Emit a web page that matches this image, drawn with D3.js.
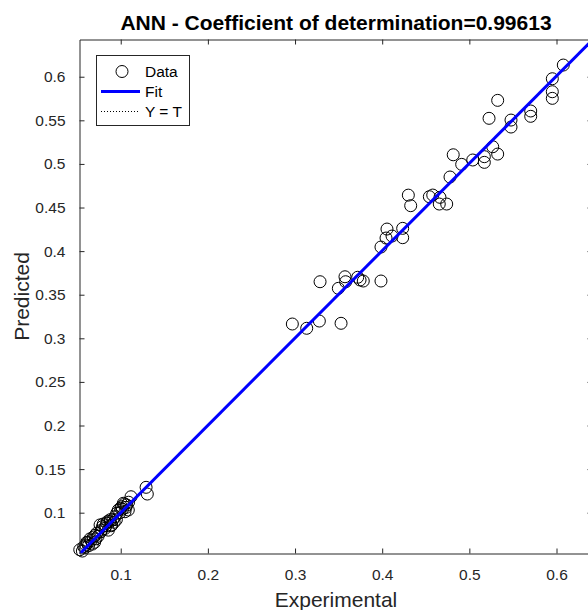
<!DOCTYPE html>
<html>
<head>
<meta charset="utf-8">
<script src="https://cdn.jsdelivr.net/npm/d3@7"></script>
<style>
  html, body { margin: 0; padding: 0; background: #fff; }
  svg { display: block; font-family: "Liberation Sans", Arial, sans-serif; }
</style>
</head>
<body>
<svg id="chart" width="588" height="610"></svg>
<script>
// Targets (experimental) and network outputs (predicted)
const experimental = [
  0.0530, 0.0560, 0.0590, 0.0600, 0.0610, 0.0630, 0.0648, 0.0660, 0.0686, 0.0700,
  0.0705, 0.0725, 0.0740, 0.0763, 0.0780, 0.0790, 0.0800, 0.0820, 0.0839, 0.0850,
  0.0858, 0.0877, 0.0890, 0.0897, 0.0910, 0.0935, 0.0950, 0.0954, 0.0972, 0.0990,
  0.1011, 0.1020, 0.1030, 0.1049, 0.1060, 0.1069, 0.1087, 0.1090, 0.1118, 0.1291,
  0.1305, 0.0575, 0.0620, 0.0675, 0.0715, 0.0770, 0.0830, 0.0880, 0.0925, 0.1000,
  0.1045,
  0.2969, 0.3134, 0.3279, 0.3528, 0.3287, 0.3497, 0.3573, 0.3581, 0.3719, 0.3746,
  0.3783, 0.3986,
  0.3986, 0.4044, 0.4055, 0.4113, 0.4235, 0.4235,
  0.4300, 0.4327, 0.4541, 0.4580, 0.4663, 0.4655, 0.4740, 0.4778, 0.4815, 0.4912,
  0.5039, 0.5172, 0.5172, 0.5268, 0.5325, 0.5226, 0.5325, 0.5478, 0.5478, 0.5704,
  0.5704, 0.5952, 0.5952, 0.5952, 0.6078
];
const predicted = [
  0.0575, 0.0560, 0.0600, 0.0630, 0.0660, 0.0620, 0.0700, 0.0680, 0.0720, 0.0660,
  0.0740, 0.0765, 0.0730, 0.0860, 0.0800, 0.0840, 0.0870, 0.0820, 0.0880, 0.0900,
  0.0800, 0.0897, 0.0850, 0.0860, 0.0920, 0.0954, 0.0920, 0.0993, 0.1031, 0.1000,
  0.1069, 0.1040, 0.1108, 0.1011, 0.1060, 0.1088, 0.1031, 0.1120, 0.1183, 0.1291,
  0.1214, 0.0610, 0.0655, 0.0640, 0.0700, 0.0780, 0.0850, 0.0920, 0.0890, 0.1050,
  0.1100,
  0.3164, 0.3115, 0.3198, 0.3172, 0.3649, 0.3573, 0.3706, 0.3649, 0.3700, 0.3669,
  0.3657, 0.3657,
  0.4047, 0.4150, 0.4253, 0.4173, 0.4261, 0.4154,
  0.4642, 0.4521, 0.4624, 0.4643, 0.4617, 0.4540, 0.4540, 0.4850, 0.5105, 0.4995,
  0.5045, 0.5083, 0.5018, 0.5197, 0.5113, 0.5523, 0.5729, 0.5503, 0.5423, 0.5607,
  0.5546, 0.5977, 0.5828, 0.5752, 0.6134
];

// Linear fit of predicted on experimental
const fitSlope = 1.002;
const fitIntercept = -0.0003;

const xTicks = [0.1, 0.2, 0.3, 0.4, 0.5, 0.6];
const yTicks = [0.1, 0.15, 0.2, 0.25, 0.3, 0.35, 0.4, 0.45, 0.5, 0.55, 0.6];

const titleText = "ANN - Coefficient of determination=0.99613";
const xLabel = "Experimental";
const yLabel = "Predicted";
const legendLabels = ["Data", "Fit", "Y = T"];

const axisColor = "#262626";
const plot = { left: 79.5, right: 592.5, top: 39.5, bottom: 553.5 };

const xDomain = [0.0527, 0.6413];
const yDomain = [0.0532, 0.6427];

const svg = d3.select("#chart");
const x = d3.scaleLinear().domain(xDomain).range([plot.left, plot.right]);
const y = d3.scaleLinear().domain(yDomain).range([plot.bottom, plot.top]);

const clipId = "plot-clip";
svg.append("defs").append("clipPath").attr("id", clipId)
  .append("rect")
  .attr("x", plot.left).attr("y", plot.top)
  .attr("width", plot.right - plot.left).attr("height", plot.bottom - plot.top);

// Data circles
const pts = experimental.map((e, i) => [e, predicted[i]]);
svg.append("g").selectAll("circle").data(pts).join("circle")
  .attr("cx", d => x(d[0]))
  .attr("cy", d => y(d[1]))
  .attr("r", 6)
  .attr("fill", "none")
  .attr("stroke", "#000")
  .attr("stroke-width", 1);

const lineGroup = svg.append("g").attr("clip-path", `url(#${clipId})`);

// Y = T reference
lineGroup.append("line")
  .attr("x1", x(xDomain[0])).attr("y1", y(xDomain[0]))
  .attr("x2", x(xDomain[1])).attr("y2", y(xDomain[1]))
  .attr("stroke", "#000").attr("stroke-width", 1)
  .attr("stroke-dasharray", "1,2");

// Fit line
lineGroup.append("line")
  .attr("x1", x(xDomain[0])).attr("y1", y(fitSlope * xDomain[0] + fitIntercept))
  .attr("x2", x(xDomain[1])).attr("y2", y(fitSlope * xDomain[1] + fitIntercept))
  .attr("stroke", "#0000ff").attr("stroke-width", 3);

// Axes (box with inward ticks on all sides)
const tickLen = 5;
function styleAxis(g) {
  g.select(".domain").attr("stroke", axisColor).attr("stroke-width", 1);
  g.selectAll(".tick line").attr("stroke", axisColor).attr("stroke-width", 1);
  g.selectAll(".tick text").attr("fill", axisColor)
    .style("font-size", "15.5px").style("font-family", "'Liberation Sans', Arial, sans-serif");
}

svg.append("g")
  .attr("transform", `translate(0,${plot.bottom})`)
  .call(d3.axisBottom(x).tickValues(xTicks).tickSizeInner(-tickLen).tickSizeOuter(0).tickPadding(15)
    .tickFormat(d3.format("~g")))
  .call(styleAxis);

svg.append("g")
  .attr("transform", `translate(0,${plot.top})`)
  .call(d3.axisTop(x).tickValues(xTicks).tickSizeInner(-tickLen).tickSizeOuter(0).tickFormat(""))
  .call(styleAxis);

svg.append("g")
  .attr("transform", `translate(${plot.left},0)`)
  .call(d3.axisLeft(y).tickValues(yTicks).tickSizeInner(-tickLen).tickSizeOuter(0).tickPadding(14)
    .tickFormat(d3.format("~g")))
  .call(styleAxis);

svg.append("g")
  .attr("transform", `translate(${plot.right},0)`)
  .call(d3.axisRight(y).tickValues(yTicks).tickSizeInner(-tickLen).tickSizeOuter(0).tickFormat(""))
  .call(styleAxis);

// Title and axis labels
svg.append("text")
  .attr("x", (plot.left + plot.right) / 2).attr("y", 30)
  .attr("text-anchor", "middle")
  .attr("fill", "#000")
  .style("font-weight", "bold").style("font-size", "21px")
  .text(titleText);

svg.append("text")
  .attr("x", (plot.left + plot.right) / 2).attr("y", 607)
  .attr("text-anchor", "middle")
  .attr("fill", axisColor)
  .style("font-size", "21px")
  .text(xLabel);

svg.append("text")
  .attr("transform", `translate(29,${(plot.top + plot.bottom) / 2}) rotate(-90)`)
  .attr("text-anchor", "middle")
  .attr("fill", axisColor)
  .style("font-size", "21px")
  .text(yLabel);

// Legend
const legend = svg.append("g");
legend.append("rect")
  .attr("x", 96.5).attr("y", 55.5).attr("width", 93).attr("height", 70)
  .attr("fill", "#fff").attr("stroke", axisColor).attr("stroke-width", 1);

const rowY = [71.5, 91.5, 111.5];
legend.append("circle")
  .attr("cx", 122).attr("cy", rowY[0]).attr("r", 6)
  .attr("fill", "none").attr("stroke", "#000").attr("stroke-width", 1);
legend.append("line")
  .attr("x1", 101).attr("x2", 140).attr("y1", rowY[1]).attr("y2", rowY[1])
  .attr("stroke", "#0000ff").attr("stroke-width", 3);
legend.append("line")
  .attr("x1", 101).attr("x2", 140).attr("y1", rowY[2]).attr("y2", rowY[2])
  .attr("stroke", "#000").attr("stroke-width", 1).attr("stroke-dasharray", "1,2");

legend.selectAll("text.lab").data(legendLabels).join("text")
  .attr("class", "lab")
  .attr("x", 145).attr("y", (d, i) => rowY[i] + 5.5)
  .attr("fill", "#000")
  .style("font-size", "15.5px")
  .text(d => d);
</script>
</body>
</html>
